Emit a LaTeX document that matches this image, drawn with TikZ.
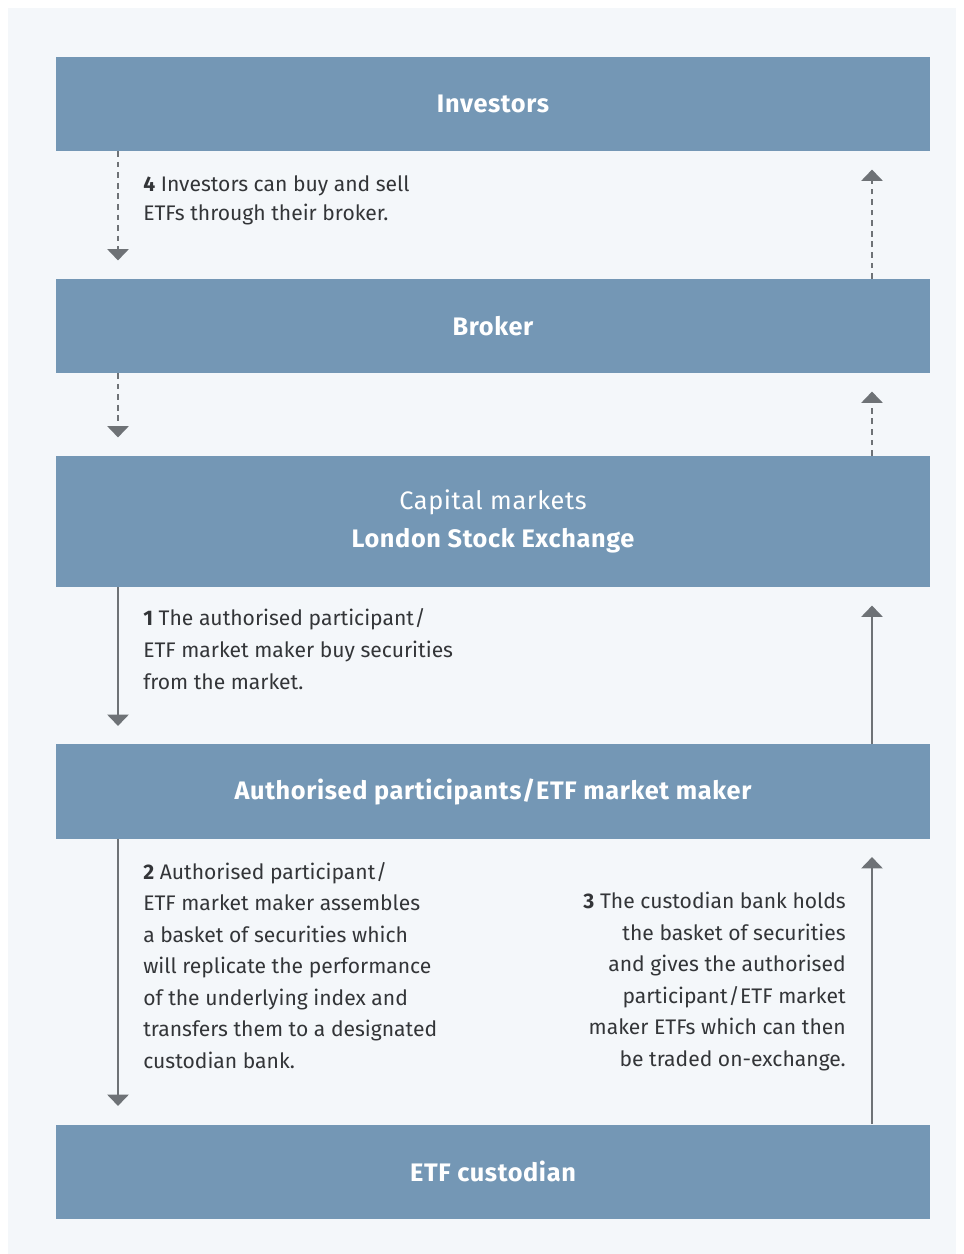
\documentclass[tikz,border=0pt]{standalone}
\usepackage{fontspec}
\setmainfont{Fira Sans}
\newfontfamily\titlefont[LetterSpace=2.5]{Fira Sans}
\usepackage{tikz}
\usepackage{xcolor}
\usetikzlibrary{arrows.meta}

\definecolor{boxblue}{HTML}{7497B5}
\definecolor{panelbg}{HTML}{F4F7FA}
\definecolor{arrowgrey}{HTML}{6E7276}
\definecolor{textgrey}{HTML}{333538}

\newcommand{\slsh}{\kern0.5pt/\kern0.5pt}

\begin{document}
\begin{tikzpicture}[
    x=0.025cm, y=-0.025cm,
    box/.style={rectangle, fill=boxblue, minimum width=21.85cm, minimum height=2.35cm, align=center, text=white, font=\titlefont\fontsize{18}{27}\selectfont\bfseries},
    note/.style={inner sep=0pt, text=textgrey, font=\fontsize{15}{22.4}\selectfont},
    arrow/.style={-{Triangle[width=15pt,length=8pt]}, line width=1.4pt, draw=arrowgrey, shorten >=13pt},
    dasharrow/.style={arrow, dash pattern=on 4pt off 3.5pt}
]
\useasboundingbox (0,0) rectangle (964,1254);
\fill[white] (0,0) rectangle (964,1254);
\fill[panelbg] (8,8) rectangle (956,1254);

\coordinate (L) at (118,0);
\coordinate (R) at (872,0);

\node[box] (inv) at (493,104)    {Investors};
\node[box] (brk) at (493,326)    {Broker};
\node[box, minimum height=3.275cm] (cap) at (493,521.5)
    {\mdseries Capital markets\\ London Stock Exchange};
\node[box] (ap)  at (493,791.5)  {Authorised participants\slsh ETF market maker};
\node[box] (cus) at (493,1171.5) {ETF custodian};

% dashed: investors and broker
\draw[dasharrow] (inv.south -| L) -- (brk.north -| L);
\draw[dasharrow] (brk.north -| R) -- (inv.south -| R);
\draw[dasharrow] (brk.south -| L) -- (cap.north -| L);
\draw[dasharrow] (cap.north -| R) -- (brk.south -| R);

% solid: market, AP, custodian
\draw[arrow] (cap.south -| L) -- (ap.north -| L);
\draw[arrow] (ap.north -| R)  -- (cap.south -| R);
\draw[arrow] (ap.south -| L)  -- (cus.north -| L);
\draw[arrow] (cus.north -| R) -- (ap.south -| R);

\node[note, anchor=north west, align=left, font=\fontsize{15}{20.6}\selectfont] (n4) at (143,175)
    {\textbf{4} Investors can buy and sell\\ ETFs through their broker.};
\node[note, anchor=north west, align=left, font=\fontsize{15}{23}\selectfont] (n1) at (143,608)
    {\textbf{1} The authorised participant\slsh\\ ETF market maker buy securities\\ from the market.};
\node[note, anchor=north west, align=left] (n2) at (143,862)
    {\textbf{2} Authorised participant\slsh\\ ETF market maker assembles\\ a basket of securities which\\
     will replicate the performance\\ of the underlying index and\\ transfers them to a designated\\ custodian bank.};
\node[note, anchor=north east, align=right] (n3) at (846,892)
    {\textbf{3} The custodian bank holds\\ the basket of securities\\ and gives the authorised\\
     participant\slsh ETF market\\ maker ETFs which can then\\ be traded on-exchange.};
\end{tikzpicture}
\end{document}
